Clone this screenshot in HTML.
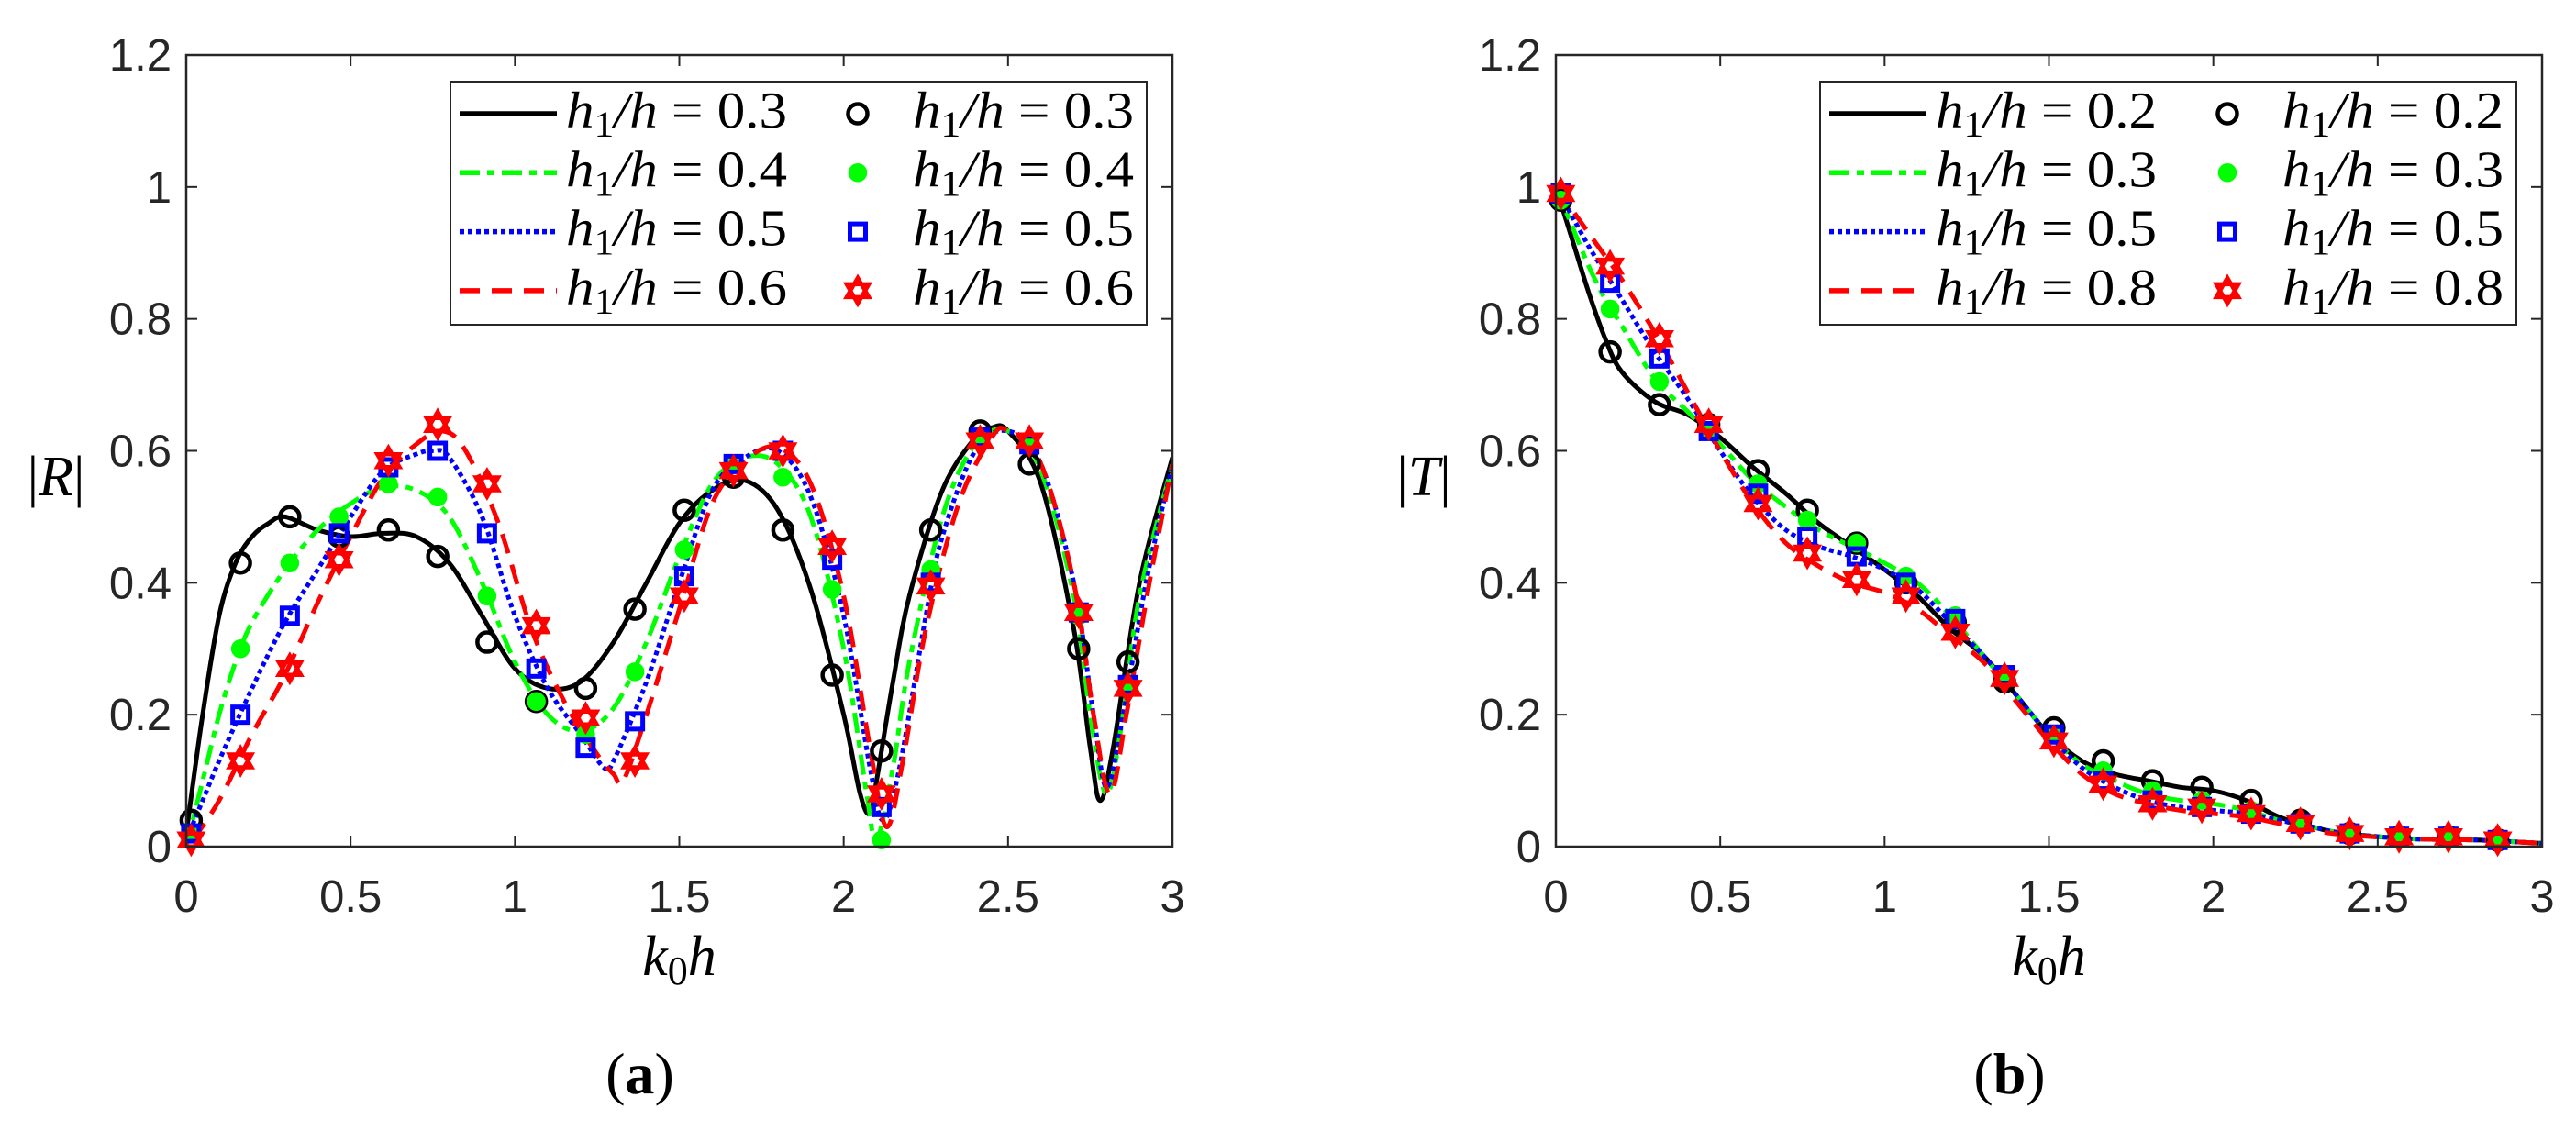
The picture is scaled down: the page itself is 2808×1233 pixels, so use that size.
<!DOCTYPE html>
<html><head><meta charset="utf-8"><style>
html,body{margin:0;padding:0;background:#fff;}
svg{display:block;}
.tick{font-family:"Liberation Sans",sans-serif;font-size:49px;fill:#262626;}
.math{font-family:"Liberation Serif",serif;font-style:italic;fill:#000;}
</style></head><body>
<svg id="fig" width="2808" height="1233" viewBox="0 0 2808 1233" xmlns="http://www.w3.org/2000/svg"></svg>
<script>
// ---------- DATA ----------
const markerX = [0.015,0.165,0.315,0.465,0.615,0.765,0.915,1.065,1.215,1.365,1.515,1.665,1.815,1.965,2.115,2.265,2.415,2.565,2.715,2.865];
const aLabels = ["0.3","0.4","0.5","0.6"];
const aMarkBlack = [0.04,0.43,0.50,0.47,0.48,0.44,0.31,0.22,0.24,0.36,0.51,0.56,0.48,0.26,0.145,0.48,0.63,0.58,0.30,0.28];
const aMarkGreen = [0.02,0.30,0.43,0.50,0.55,0.53,0.38,0.22,0.17,0.265,0.45,0.58,0.56,0.39,0.01,0.42,0.62,0.61,0.35,0.245];
const aMarkBlue  = [0.02,0.20,0.35,0.475,0.575,0.60,0.475,0.27,0.15,0.19,0.41,0.58,0.60,0.435,0.06,0.40,0.62,0.61,0.355,0.245];
const aMarkRed   = [0.01,0.13,0.27,0.435,0.585,0.64,0.55,0.335,0.195,0.13,0.38,0.57,0.60,0.455,0.08,0.395,0.615,0.615,0.355,0.24];
const aLineBlackX = [0,0.05,0.1,0.15,0.2,0.25,0.3,0.4,0.5,0.6,0.7,0.8,0.9,1.0,1.1,1.2,1.3,1.4,1.5,1.6,1.7,1.8,1.9,2.0,2.05,2.08,2.1,2.15,2.2,2.3,2.4,2.45,2.5,2.6,2.7,2.75,2.78,2.82,2.9,3.0];
const aLineBlackY = [0.02,0.2,0.35,0.43,0.47,0.49,0.5,0.48,0.47,0.475,0.47,0.43,0.35,0.27,0.24,0.25,0.31,0.40,0.49,0.54,0.555,0.51,0.39,0.2,0.08,0.05,0.1,0.25,0.38,0.54,0.62,0.635,0.63,0.55,0.33,0.15,0.07,0.15,0.4,0.59];
const aLineGreenX = [0,0.05,0.1,0.15,0.2,0.3,0.4,0.5,0.6,0.7,0.8,0.9,1.0,1.1,1.2,1.3,1.4,1.5,1.6,1.7,1.8,1.9,2.0,2.07,2.1,2.15,2.2,2.3,2.4,2.5,2.6,2.7,2.75,2.8,2.85,2.9,3.0];
const aLineGreenY = [0.0,0.1,0.2,0.28,0.34,0.42,0.48,0.52,0.545,0.54,0.5,0.4,0.28,0.2,0.175,0.21,0.31,0.44,0.55,0.59,0.58,0.5,0.3,0.08,0.01,0.12,0.28,0.5,0.61,0.63,0.57,0.38,0.2,0.08,0.2,0.38,0.58];
const aLineBlueX = [0,0.05,0.1,0.2,0.3,0.4,0.5,0.6,0.7,0.75,0.8,0.9,1.0,1.1,1.2,1.27,1.3,1.4,1.5,1.6,1.7,1.8,1.9,2.0,2.08,2.12,2.17,2.25,2.3,2.4,2.5,2.6,2.7,2.76,2.8,2.85,2.92,3.0];
const aLineBlueY = [0.01,0.07,0.13,0.24,0.34,0.42,0.5,0.57,0.595,0.6,0.59,0.5,0.35,0.24,0.17,0.12,0.13,0.25,0.4,0.54,0.59,0.6,0.53,0.35,0.12,0.04,0.12,0.35,0.47,0.6,0.63,0.58,0.4,0.2,0.09,0.2,0.4,0.58];
const aLineRedX = [0.02,0.1,0.2,0.3,0.4,0.5,0.6,0.7,0.78,0.85,0.95,1.05,1.15,1.25,1.3,1.33,1.4,1.5,1.6,1.7,1.8,1.9,2.0,2.08,2.13,2.18,2.25,2.35,2.45,2.5,2.6,2.7,2.76,2.81,2.86,2.93,3.0];
const aLineRedY = [0.01,0.07,0.17,0.26,0.37,0.47,0.56,0.61,0.63,0.6,0.49,0.33,0.22,0.14,0.11,0.1,0.2,0.36,0.52,0.585,0.605,0.55,0.38,0.15,0.03,0.13,0.33,0.52,0.62,0.63,0.58,0.4,0.2,0.08,0.2,0.4,0.58];

const bLabels = ["0.2","0.3","0.5","0.8"];
const bMarkBlack = [0.98,0.75,0.67,0.64,0.57,0.51,0.46,0.40,0.34,0.25,0.18,0.13,0.10,0.09,0.07,0.04,0.02,0.015,0.015,0.01];
const bMarkGreen = [0.98,0.815,0.705,0.63,0.55,0.495,0.46,0.41,0.35,0.255,0.17,0.115,0.085,0.07,0.055,0.035,0.02,0.015,0.015,0.01];
const bMarkBlue  = [0.99,0.855,0.74,0.63,0.535,0.47,0.44,0.40,0.345,0.26,0.17,0.10,0.07,0.06,0.05,0.035,0.02,0.015,0.015,0.01];
const bMarkRed   = [0.99,0.88,0.77,0.64,0.52,0.445,0.405,0.38,0.325,0.255,0.16,0.095,0.065,0.06,0.05,0.035,0.02,0.015,0.015,0.01];
const bLineX = [0,0.05,0.1,0.15,0.2,0.3,0.4,0.5,0.6,0.7,0.8,0.9,1.0,1.1,1.2,1.3,1.4,1.5,1.6,1.7,1.8,1.9,2.0,2.1,2.2,2.3,2.4,2.6,2.8,3.0];
const bLineBlackY = [1.0,0.92,0.84,0.77,0.72,0.675,0.655,0.62,0.575,0.535,0.49,0.455,0.42,0.38,0.33,0.29,0.23,0.17,0.13,0.11,0.1,0.09,0.085,0.07,0.045,0.03,0.02,0.012,0.01,0.005];
const bLineGreenY = [1.0,0.94,0.88,0.83,0.79,0.71,0.66,0.61,0.555,0.515,0.48,0.455,0.43,0.4,0.35,0.29,0.23,0.17,0.125,0.1,0.08,0.07,0.065,0.055,0.04,0.03,0.02,0.012,0.01,0.005];
const bLineBlueY  = [1.0,0.955,0.91,0.87,0.83,0.75,0.68,0.6,0.53,0.48,0.455,0.44,0.42,0.39,0.34,0.29,0.23,0.17,0.12,0.09,0.07,0.06,0.055,0.05,0.04,0.03,0.02,0.012,0.01,0.005];
const bLineRedY   = [1.0,0.965,0.93,0.895,0.86,0.78,0.69,0.6,0.52,0.46,0.425,0.4,0.385,0.36,0.32,0.28,0.22,0.16,0.11,0.08,0.065,0.055,0.05,0.045,0.035,0.025,0.018,0.012,0.01,0.005];
const xTicks = [0,0.5,1,1.5,2,2.5,3];
const xTickLabels = ["0","0.5","1","1.5","2","2.5","3"];
const yTicks = [0,0.2,0.4,0.6,0.8,1,1.2];
const yTickLabels = ["0","0.2","0.4","0.6","0.8","1","1.2"];

// ---------- DRAW ----------
const NS = "http://www.w3.org/2000/svg";
const svg = document.getElementById('fig');
function mk(tag, attrs, parent){const e=document.createElementNS(NS,tag);for(const k in attrs)e.setAttribute(k,attrs[k]);(parent||svg).appendChild(e);return e;}
const styles = {
  black:{c:"#000",dash:"none"},
  green:{c:"#00ff00",dash:"22,8,8,8"},
  blue:{c:"#0000ff",dash:"5,4"},
  red:{c:"#ff0000",dash:"22,13"}
};
function crPath(pts){
  let d="M"+pts[0][0].toFixed(1)+","+pts[0][1].toFixed(1);
  for(let i=0;i<pts.length-1;i++){
    const p0=pts[Math.max(0,i-1)],p1=pts[i],p2=pts[i+1],p3=pts[Math.min(pts.length-1,i+2)];
    const c1=[p1[0]+(p2[0]-p0[0])/6,p1[1]+(p2[1]-p0[1])/6];
    const c2=[p2[0]-(p3[0]-p1[0])/6,p2[1]-(p3[1]-p1[1])/6];
    d+=" C"+c1[0].toFixed(1)+","+c1[1].toFixed(1)+" "+c2[0].toFixed(1)+","+c2[1].toFixed(1)+" "+p2[0].toFixed(1)+","+p2[1].toFixed(1);
  }
  return d;
}
function drawMarker(g,kind,cx,cy,name){
  let e;
  if(kind==="black"){e=mk("circle",{cx:cx,cy:cy,r:10.5,fill:"none",stroke:"#000","stroke-width":4.5},g);}
  else if(kind==="green"){e=mk("circle",{cx:cx,cy:cy,r:9,fill:"#00ff00",stroke:"#00ff00","stroke-width":2.5},g);}
  else if(kind==="blue"){e=mk("rect",{x:cx-8.5,y:cy-8.5,width:17,height:17,fill:"none",stroke:"#0000ff","stroke-width":5},g);}
  else {
    const r=14,pts=[];
    for(let k=0;k<3;k++){const a=-Math.PI/2+k*2*Math.PI/3;pts.push((cx+r*Math.cos(a)).toFixed(1)+","+(cy+r*Math.sin(a)).toFixed(1));}
    const pts2=[];
    for(let k=0;k<3;k++){const a=Math.PI/2+k*2*Math.PI/3;pts2.push((cx+r*Math.cos(a)).toFixed(1)+","+(cy+r*Math.sin(a)).toFixed(1));}
    e=mk("g",{},g);
    mk("polygon",{points:pts.join(" "),fill:"none",stroke:"#ff0000","stroke-width":4.5},e);
    mk("polygon",{points:pts2.join(" "),fill:"none",stroke:"#ff0000","stroke-width":4.5},e);
  }
  
  
}
function panel(cfg){
  const L=cfg.left,T=60,W=1075,H=863;
  const sx=v=>L+v/3*W, sy=v=>T+H-v/1.2*H;
  const g=mk("g",{});
  
  
  xTicks.forEach((v,i)=>{
    const x=sx(v);
    mk("line",{x1:x,y1:T+H,x2:x,y2:T+H-12,stroke:"#262626","stroke-width":2},g);
    mk("line",{x1:x,y1:T,x2:x,y2:T+12,stroke:"#262626","stroke-width":2},g);
    const t=mk("text",{x:x,y:994,"text-anchor":"middle",class:"tick"},g);t.textContent=xTickLabels[i];
    
    
  });
  yTicks.forEach((v,i)=>{
    const y=sy(v);
    mk("line",{x1:L,y1:y,x2:L+12,y2:y,stroke:"#262626","stroke-width":2},g);
    mk("line",{x1:L+W,y1:y,x2:L+W-12,y2:y,stroke:"#262626","stroke-width":2},g);
    const t=mk("text",{x:L-16,y:y+17,"text-anchor":"end",class:"tick"},g);t.textContent=yTickLabels[i];
    
    
  });
  const cid="clip"+cfg.name;
  const cp=mk("clipPath",{id:cid},g);mk("rect",{x:L,y:T-20,width:W,height:H+20},cp);
  const plot=mk("g",{"clip-path":"url(#"+cid+")"},g);
  cfg.lines.forEach(s=>{
    const pts=s.x.map((xv,i)=>[sx(xv),sy(s.y[i])]);
    const p=mk("path",{d:crPath(pts),fill:"none",stroke:styles[s.k].c,"stroke-width":5,"stroke-dasharray":styles[s.k].dash},plot);
    
    
  });
  cfg.marks.forEach(s=>{
    s.y.forEach((yv,i)=>drawMarker(g,s.k,sx(markerX[i]),sy(yv),'marker-'+s.k));
  });
  const box=mk("rect",{x:L,y:T,width:W,height:H,fill:"none",stroke:"#262626","stroke-width":2.5},g);
  
  
  const LX=L+288, LY=89;
  const lg=mk("g",{},g);
  
  
  mk("rect",{x:LX,y:LY,width:759,height:265,fill:"#fff",stroke:"#262626","stroke-width":2},lg);
  const kinds=["black","green","blue","red"];
  kinds.forEach((k,i)=>{
    const cy=LY+35+i*64.3;
    const ln=mk("line",{x1:LX+10,y1:cy,x2:LX+116,y2:cy,stroke:styles[k].c,"stroke-width":5.5,"stroke-dasharray":styles[k].dash},lg);
    
    
    [LX+126,LX+504].forEach((tx,j)=>{
      const t=mk("text",{x:tx,y:cy+15,class:"math","font-size":56,textLength:241,lengthAdjust:"spacingAndGlyphs"},lg);
      t.innerHTML='h<tspan font-size="40" dy="10" font-style="normal">1</tspan><tspan dy="-10">/h</tspan><tspan font-style="normal"> = '+cfg.labels[i]+'</tspan>';
      
      
    });
    drawMarker(lg,k,LX+444,cy,'legend-marker-'+k);
  });
  const yl=mk("text",{x:cfg.ylx,y:540,"text-anchor":"middle",class:"math","font-size":62},g);
  yl.innerHTML='<tspan font-style="normal">|</tspan>'+cfg.yl+'<tspan font-style="normal">|</tspan>';
  
  
  const xl=mk("text",{x:L+W/2,y:1063,"text-anchor":"middle",class:"math","font-size":62},g);
  xl.innerHTML='k<tspan font-size="44" dy="10" font-style="normal">0</tspan><tspan dy="-10">h</tspan>';
  
  
  const pl=mk("text",{x:L+W/2-43,y:1192,"text-anchor":"middle","font-family":"Liberation Serif, serif","font-size":64},g);
  pl.innerHTML='(<tspan font-weight="bold">'+cfg.tag+'</tspan>)';
  
  
}
panel({name:"panel-a",left:203,labels:aLabels,yl:"R",ylx:61,tag:"a",
  lines:[{k:"black",x:aLineBlackX,y:aLineBlackY},{k:"green",x:aLineGreenX,y:aLineGreenY},{k:"blue",x:aLineBlueX,y:aLineBlueY},{k:"red",x:aLineRedX,y:aLineRedY}],
  marks:[{k:"black",y:aMarkBlack},{k:"green",y:aMarkGreen},{k:"blue",y:aMarkBlue},{k:"red",y:aMarkRed}]});
panel({name:"panel-b",left:1696,labels:bLabels,yl:"T",ylx:1552,tag:"b",
  lines:[{k:"black",x:bLineX,y:bLineBlackY},{k:"green",x:bLineX,y:bLineGreenY},{k:"blue",x:bLineX,y:bLineBlueY},{k:"red",x:bLineX,y:bLineRedY}],
  marks:[{k:"black",y:bMarkBlack},{k:"green",y:bMarkGreen},{k:"blue",y:bMarkBlue},{k:"red",y:bMarkRed}]});
</script>
</body></html>
